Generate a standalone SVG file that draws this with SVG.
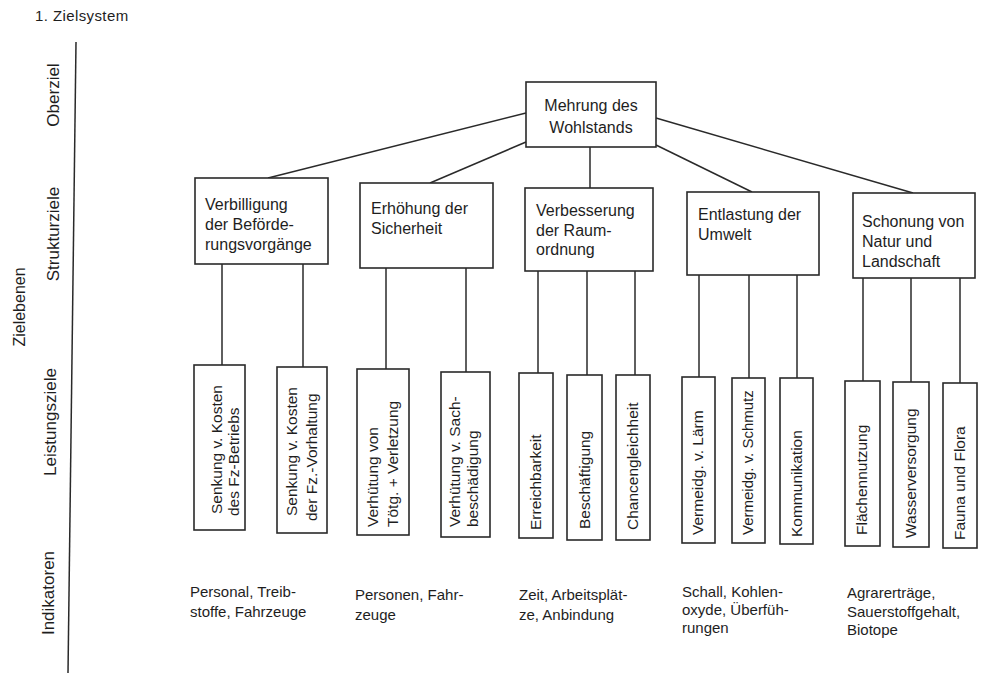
<svg xmlns="http://www.w3.org/2000/svg" width="981" height="673" viewBox="0 0 981 673">
<style>
text{font-family:"Liberation Sans",Arial,sans-serif;fill:#1e1e1e;}
.box{fill:#fff;stroke:#2a2a2a;stroke-width:1.6;}
.ln{stroke:#2a2a2a;stroke-width:1.5;fill:none;}
.t16{font-size:16px;}
.t15{font-size:15px;}
.lf{font-size:15.5px;}
.lv{font-size:17px;}
</style>
<rect width="981" height="673" fill="#fff"/>
<text x="35" y="21" style="font-size:15px;letter-spacing:0.4px">1. Zielsystem</text>
<g id="axis">
<line class="ln" x1="76" y1="42" x2="68" y2="673"/>
<text class="lv" text-anchor="middle" transform="translate(59,95) rotate(-90)">Oberziel</text>
<text class="lv" text-anchor="middle" transform="translate(59,234) rotate(-90)">Strukturziele</text>
<text class="lv" text-anchor="middle" transform="translate(56,422) rotate(-90)">Leistungsziele</text>
<text class="lv" text-anchor="middle" transform="translate(54,593) rotate(-90)">Indikatoren</text>
<text style="font-size:16px" text-anchor="middle" transform="translate(25,307) rotate(-90)">Zielebenen</text>
</g>
<g id="connectors">
<line class="ln" x1="526" y1="113" x2="268" y2="178"/>
<line class="ln" x1="526" y1="142" x2="430" y2="183"/>
<line class="ln" x1="590" y1="147" x2="590" y2="188"/>
<line class="ln" x1="656" y1="145" x2="752" y2="192"/>
<line class="ln" x1="656" y1="118" x2="913" y2="193"/>
<line class="ln" x1="222" y1="264" x2="222" y2="365"/>
<line class="ln" x1="303" y1="264" x2="303" y2="367"/>
<line class="ln" x1="386" y1="268" x2="386" y2="369"/>
<line class="ln" x1="466" y1="268" x2="466" y2="372"/>
<line class="ln" x1="538" y1="271" x2="538" y2="373"/>
<line class="ln" x1="587" y1="271" x2="587" y2="375"/>
<line class="ln" x1="635" y1="271" x2="635" y2="375"/>
<line class="ln" x1="699" y1="275" x2="699" y2="377"/>
<line class="ln" x1="749" y1="275" x2="749" y2="378"/>
<line class="ln" x1="797" y1="275" x2="797" y2="378"/>
<line class="ln" x1="863" y1="278" x2="863" y2="381"/>
<line class="ln" x1="911" y1="278" x2="911" y2="382"/>
<line class="ln" x1="960" y1="278" x2="960" y2="383"/>
</g>
<g id="top">
<rect class="box" x="526" y="82" width="130" height="65"/>
<text class="t16" x="591" y="111" text-anchor="middle">Mehrung des</text>
<text class="t16" x="591" y="133" text-anchor="middle">Wohlstands</text>
</g>
<g id="s1">
<rect class="box" x="195" y="178" width="133" height="86"/>
<text class="t16" x="205" y="210">Verbilligung</text>
<text class="t16" x="205" y="230">der Beförde-</text>
<text class="t16" x="205" y="250">rungsvorgänge</text>
</g>
<g id="s2">
<rect class="box" x="360" y="183" width="133" height="85"/>
<text class="t16" x="371" y="214">Erhöhung der</text>
<text class="t16" x="371" y="234">Sicherheit</text>
</g>
<g id="s3">
<rect class="box" x="525" y="188" width="128" height="83"/>
<text class="t16" x="536" y="216">Verbesserung</text>
<text class="t16" x="536" y="236">der Raum-</text>
<text class="t16" x="536" y="255">ordnung</text>
</g>
<g id="s4">
<rect class="box" x="687" y="192" width="132" height="83"/>
<text class="t16" x="698" y="220">Entlastung der</text>
<text class="t16" x="698" y="240">Umwelt</text>
</g>
<g id="s5">
<rect class="box" x="853" y="193" width="122" height="85"/>
<text class="t16" x="862" y="227">Schonung von</text>
<text class="t16" x="862" y="247">Natur und</text>
<text class="t16" x="862" y="267">Landschaft</text>
</g>
<g id="l1">
<rect class="box" x="194" y="365" width="51" height="165"/>
<text class="lf" transform="translate(222,514) rotate(-90)">Senkung v. Kosten</text>
<text class="lf" transform="translate(239,516) rotate(-90)">des Fz-Betriebs</text>
</g>
<g id="l2">
<rect class="box" x="277" y="367" width="50" height="166"/>
<text class="lf" transform="translate(297,516) rotate(-90)">Senkung v. Kosten</text>
<text class="lf" transform="translate(317,521) rotate(-90)">der Fz.-Vorhaltung</text>
</g>
<g id="l3">
<rect class="box" x="357" y="369" width="52" height="166"/>
<text class="lf" transform="translate(378,527) rotate(-90)">Verhütung von</text>
<text class="lf" transform="translate(398,527) rotate(-90)">Tötg. + Verletzung</text>
</g>
<g id="l4">
<rect class="box" x="441" y="372" width="49" height="165"/>
<text class="lf" transform="translate(460,527) rotate(-90)">Verhütung v. Sach-</text>
<text class="lf" transform="translate(478,527) rotate(-90)">beschädigung</text>
</g>
<g id="l5">
<rect class="box" x="519" y="373" width="34" height="165"/>
<text class="lf" transform="translate(541,530) rotate(-90)">Erreichbarkeit</text>
</g>
<g id="l6">
<rect class="box" x="567" y="375" width="35" height="165"/>
<text class="lf" transform="translate(590,529) rotate(-90)">Beschäftigung</text>
</g>
<g id="l7">
<rect class="box" x="616" y="375" width="34" height="165"/>
<text class="lf" transform="translate(638,530) rotate(-90)">Chancengleichheit</text>
</g>
<g id="l8">
<rect class="box" x="682" y="377" width="33" height="166"/>
<text class="lf" transform="translate(703,535) rotate(-90)">Vermeidg. v. Lärm</text>
</g>
<g id="l9">
<rect class="box" x="732" y="378" width="33" height="165"/>
<text class="t15" transform="translate(753,535) rotate(-90)">Vermeidg. v. Schmutz</text>
</g>
<g id="l10">
<rect class="box" x="780" y="378" width="33" height="166"/>
<text class="lf" transform="translate(802,537) rotate(-90)">Kommunikation</text>
</g>
<g id="l11">
<rect class="box" x="845" y="381" width="35" height="165"/>
<text class="lf" transform="translate(867,535) rotate(-90)">Flächennutzung</text>
</g>
<g id="l12">
<rect class="box" x="893" y="382" width="36" height="165"/>
<text class="lf" transform="translate(916,538) rotate(-90)">Wasserversorgung</text>
</g>
<g id="l13">
<rect class="box" x="943" y="383" width="34" height="165"/>
<text class="lf" transform="translate(965,540) rotate(-90)">Fauna und Flora</text>
</g>
<g id="i1">
<text class="t15" x="190" y="597">Personal, Treib-</text>
<text class="t15" x="190" y="617">stoffe, Fahrzeuge</text>
</g>
<g id="i2">
<text class="t15" x="355" y="600">Personen, Fahr-</text>
<text class="t15" x="355" y="620">zeuge</text>
</g>
<g id="i3">
<text class="t15" x="519" y="600">Zeit, Arbeitsplät-</text>
<text class="t15" x="519" y="620">ze, Anbindung</text>
</g>
<g id="i4">
<text class="t15" x="682" y="597">Schall, Kohlen-</text>
<text class="t15" x="682" y="615">oxyde, Überfüh-</text>
<text class="t15" x="682" y="633">rungen</text>
</g>
<g id="i5">
<text class="t15" x="847" y="598">Agrarerträge,</text>
<text class="t15" x="847" y="617">Sauerstoffgehalt,</text>
<text class="t15" x="847" y="635">Biotope</text>
</g>
</svg>
